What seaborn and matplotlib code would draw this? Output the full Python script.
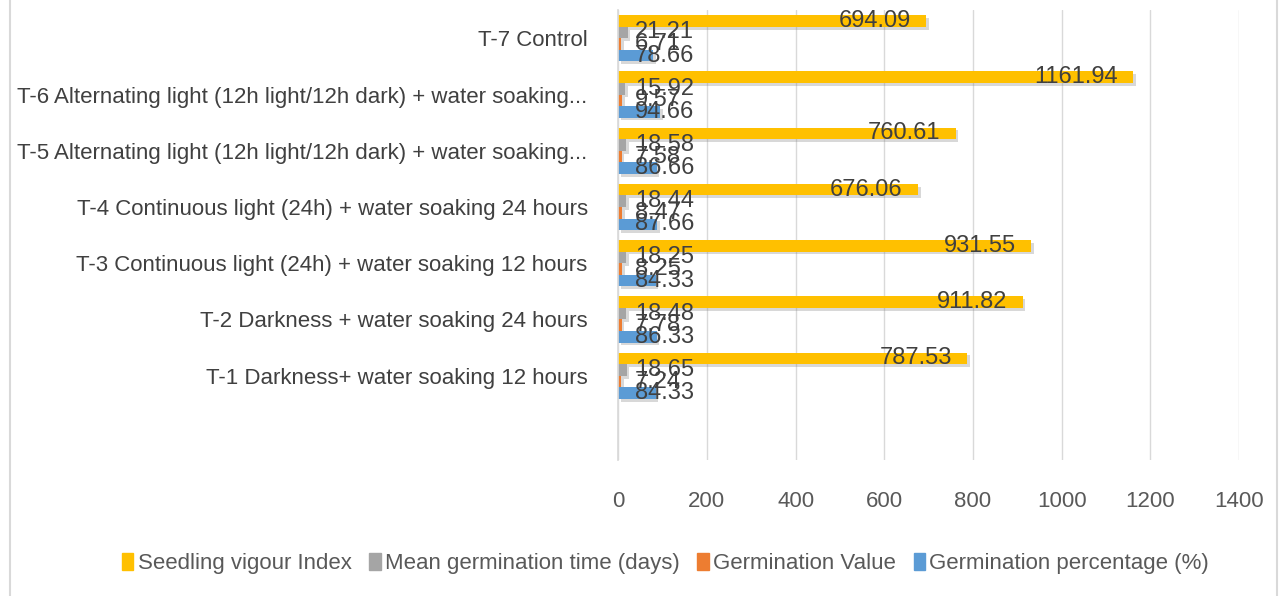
import matplotlib
matplotlib.use("Agg")
import matplotlib.pyplot as plt
import matplotlib.patheffects as pe
import seaborn as sns
import pandas as pd
from matplotlib.patches import Rectangle

categories = [
    "T-7 Control",
    "T-6 Alternating light (12h light/12h dark) + water soaking...",
    "T-5 Alternating light (12h light/12h dark) + water soaking...",
    "T-4 Continuous light (24h) + water soaking 24 hours",
    "T-3 Continuous light (24h) + water soaking 12 hours",
    "T-2 Darkness + water soaking 24 hours",
    "T-1 Darkness+ water soaking 12 hours",
]
series_names = ["Seedling vigour Index", "Mean germination time (days)",
                "Germination Value", "Germination percentage (%)"]
seedling_vigour = [694.09, 1161.94, 760.61, 676.06, 931.55, 911.82, 787.53]
mean_germ_time = [21.21, 15.92, 18.58, 18.44, 18.25, 18.48, 18.65]
germ_value = [6.71, 9.57, 7.58, 8.47, 8.25, 7.78, 7.24]
germ_percent = [78.66, 94.66, 86.66, 87.66, 84.33, 86.33, 84.33]
x_ticks = [0, 200, 400, 600, 800, 1000, 1200, 1400]

colors = ["#FFC000", "#A5A5A5", "#ED7D31", "#5B9BD5"]

rows = []
for s, vals in zip(series_names, [seedling_vigour, mean_germ_time, germ_value, germ_percent]):
    for c, v in zip(categories, vals):
        rows.append({"Treatment": c, "Series": s, "Value": v})
df = pd.DataFrame(rows)

sns.set_theme(style="white")
plt.rcParams["font.family"] = ["Liberation Sans", "DejaVu Sans"]

fig = plt.figure(figsize=(12.8, 5.96), dpi=100)
ax = fig.add_axes([0.483, 0.228, 0.485, 0.755])

order = categories + [" "]
sns.barplot(data=df, y="Treatment", x="Value", hue="Series", order=order,
            hue_order=series_names, palette=colors, orient="h", ax=ax,
            width=0.82, saturation=1, errorbar=None, legend=False, linewidth=0)

for p in ax.patches:
    p.set_path_effects([pe.SimplePatchShadow(offset=(2, -2), alpha=0.3, shadow_rgbFace="#808080"), pe.Normal()])

ax.set_xlim(0, 1400)
ax.set_xticks(x_ticks)
ax.set_xticklabels([str(t) for t in x_ticks], fontsize=16, color="#595959")
ax.tick_params(axis="x", length=0, pad=22)
ax.tick_params(axis="y", length=0, pad=22, labelsize=16, labelcolor="#404040")
ax.set_xlabel("")
ax.set_ylabel("")
ax.grid(axis="x", color="#D9D9D9", linewidth=1)
ax.set_axisbelow(True)
for sp in ["top", "right", "bottom"]:
    ax.spines[sp].set_visible(False)
ax.spines["left"].set_color("#D9D9D9")

for container, vals in zip(ax.containers, [seedling_vigour, mean_germ_time, germ_value, germ_percent]):
    for bar, v in zip(container.patches, vals):
        yc = bar.get_y() + bar.get_height() / 2
        if v > 300:
            ax.annotate(f"{v:.2f}", (v, yc), xytext=(-11, 0), textcoords="offset points",
                        ha="right", va="center", fontsize=17, color="#404040")
        else:
            ax.annotate(f"{v:.2f}", (0, yc), xytext=(12, 0), textcoords="offset points",
                        ha="left", va="center", fontsize=17, color="#404040")

handles = [Rectangle((0, 0), 1, 1, color=c) for c in colors]
fig.legend(handles, series_names, loc="center", bbox_to_anchor=(0.52, 0.054), ncol=4,
           frameon=False, fontsize=16, handlelength=0.5, handleheight=0.8,
           handletextpad=0.2, columnspacing=0.8, labelcolor="#595959")

fig.add_artist(Rectangle((0.008, -0.01), 0.99, 1.02, transform=fig.transFigure,
                         fill=False, edgecolor="#D9D9D9", linewidth=1.5))

fig.savefig("out.png", dpi=100)
